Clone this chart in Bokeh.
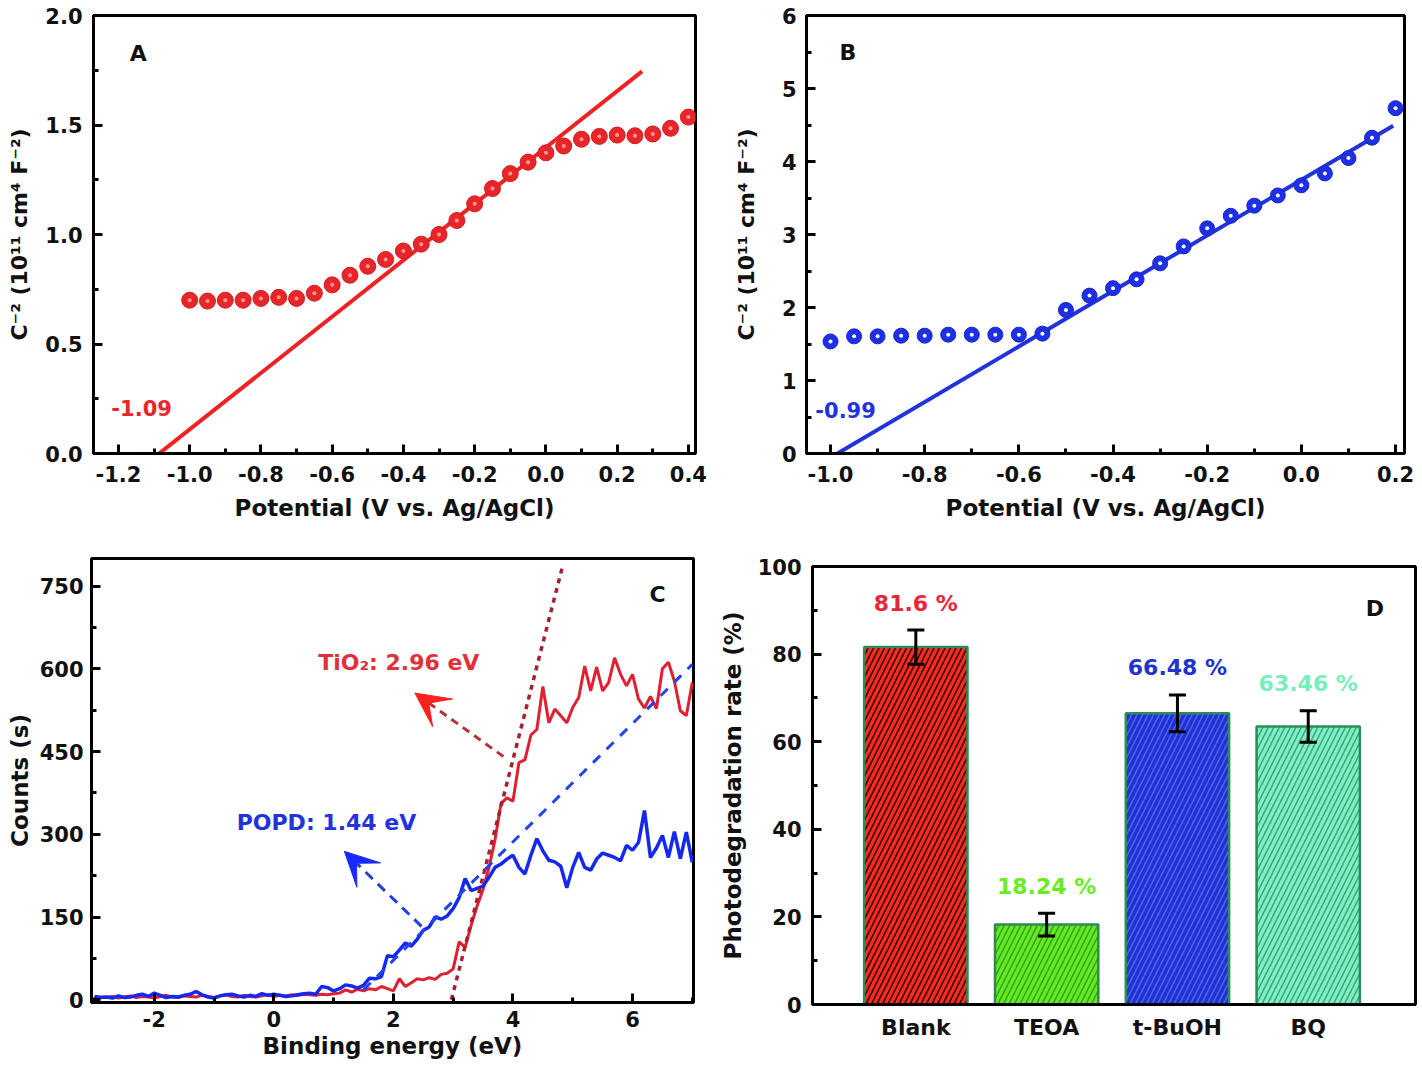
from bokeh.plotting import figure
from bokeh.layouts import column, row
from bokeh.models import (Range1d, SingleIntervalTicker, FixedTicker, PrintfTickFormatter,
                          Label, Arrow, VeeHead, Whisker, TeeHead, ColumnDataSource, Spacer)
from bokeh.core.properties import value
from bokeh.embed import file_html
from bokeh.resources import INLINE

FONT = "DejaVu Sans"

# ---------------- Panel A: Mott-Schottky (red) ----------------
a_potential = [-1.0, -0.95, -0.9, -0.85, -0.8, -0.75, -0.7, -0.65, -0.6, -0.55,
               -0.5, -0.45, -0.4, -0.35, -0.3, -0.25, -0.2, -0.15, -0.1, -0.05,
               0.0, 0.05, 0.1, 0.15, 0.2, 0.25, 0.3, 0.35, 0.4]
a_c2 = [0.70, 0.696, 0.70, 0.70, 0.708, 0.713, 0.708, 0.732, 0.77, 0.814,
        0.855, 0.886, 0.925, 0.956, 1.00, 1.064, 1.14, 1.21, 1.278, 1.33,
        1.373, 1.404, 1.435, 1.448, 1.454, 1.451, 1.459, 1.485, 1.536]
a_fit_x = [-1.14, 0.27]
a_fit_y = [-0.07, 1.745]
a_intercept = "-1.09"

# ---------------- Panel B: Mott-Schottky (blue) ----------------
b_potential = [-1.0, -0.95, -0.9, -0.85, -0.8, -0.75, -0.7, -0.65, -0.6, -0.55,
               -0.5, -0.45, -0.4, -0.35, -0.3, -0.25, -0.2, -0.15, -0.1, -0.05,
               0.0, 0.05, 0.1, 0.15, 0.2]
b_c2 = [1.535, 1.605, 1.605, 1.614, 1.614, 1.628, 1.628, 1.628, 1.628, 1.642,
        1.967, 2.163, 2.265, 2.386, 2.605, 2.837, 3.084, 3.256, 3.395, 3.535,
        3.674, 3.837, 4.047, 4.326, 4.73]
b_fit_x = [-1.038, 0.195]
b_fit_y = [-0.2, 4.49]
b_intercept = "-0.99"

# ---------------- Panel C: VB-XPS ----------------
c_energy = [round(-3.0 + 0.1 * i, 1) for i in range(101)]
c_tio2 = [3, 5, 4, 6, 3, 5, 7, 4, 6, 5,
          3, 6, 8, 5, 4, 7, 6, 5, 8, 6,
          4, 7, 9, 6, 5, 8, 6, 5, 7, 9,
          6, 8, 7, 9, 8, 10, 9, 8, 10, 9,
          11, 12, 18, 14, 19, 16, 20, 18, 24, 20,
          16, 38, 24, 31, 38, 36, 40, 37, 46, 48,
          56, 105, 95, 135, 170, 200, 240, 290, 356, 366,
          360, 430, 435, 480, 490, 568, 502, 527, 515, 502,
          530, 548, 605, 560, 603, 560, 575, 620, 590, 569,
          590, 545, 529, 550, 528, 600, 612, 578, 524, 515,
          575]
c_popd = [6, 4, 5, 3, 7, 4, 5, 8, 10, 6,
          12, 8, 4, 6, 5, 8, 10, 15, 9, 5,
          3, 7, 9, 10, 7, 5, 8, 6, 11, 8,
          10, 8, 6, 7, 9, 11, 12, 10, 24, 22,
          16, 20, 27, 25, 21, 26, 39, 38, 42, 80,
          78, 90, 103, 97, 110, 126, 132, 150, 146, 152,
          165, 185, 220, 198, 202, 206, 222, 240, 246, 255,
          262, 240, 228, 262, 292, 270, 253, 250, 242, 203,
          240, 267, 240, 235, 255, 266, 262, 258, 252, 280,
          271, 285, 343, 258, 275, 298, 258, 305, 256, 304,
          249]
c_tio2_tangent_x = [2.97, 4.83]
c_tio2_tangent_y = [0, 786]
c_popd_tangent_x = [1.5, 7.0]
c_popd_tangent_y = [18, 608]

# ---------------- Panel D: scavenger experiment ----------------
d_categories = ["Blank", "TEOA", "t-BuOH", "BQ"]
d_rates = [81.6, 18.24, 66.48, 63.46]
d_errors = [3.9, 2.6, 4.2, 3.6]
d_labels = ["81.6 %", "18.24 %", "66.48 %", "63.46 %"]
d_fill = ["#ff2a1f", "#62ee1e", "#1f2fe0", "#80f0c2"]
d_hatch = ["#2a0000", "#3c9c28", "#4a6ad0", "#3aa880"]
d_text = ["#e8253a", "#66ee22", "#2233cc", "#77eebb"]


def style(p, tick_size="21px", label_size="23px"):
    p.outline_line_color = "black"
    p.outline_line_width = 3
    p.outline_line_alpha = 1.0
    p.grid.visible = False
    p.background_fill_color = "white"
    p.border_fill_color = "white"
    for ax in (p.xaxis[0], p.yaxis[0]):
        ax.axis_line_width = 3
        ax.axis_line_color = "black"
        ax.major_tick_in = 9
        ax.major_tick_out = 0
        ax.minor_tick_in = 5
        ax.minor_tick_out = 0
        ax.major_tick_line_width = 3
        ax.minor_tick_line_width = 3
        ax.major_label_text_font = FONT
        ax.major_label_text_font_style = "bold"
        ax.major_label_text_font_size = tick_size
        ax.major_label_text_color = "#111111"
        ax.axis_label_text_font = FONT
        ax.axis_label_text_font_style = "bold"
        ax.axis_label_text_font_size = label_size
        ax.axis_label_text_color = "#111111"


def letter(p, x, y, t):
    p.add_layout(Label(x=x, y=y, text=t, text_font=FONT, text_font_style="bold",
                       text_font_size="22px", text_color="#111111",
                       text_align="center", text_baseline="middle"))


# ---------- A ----------
pA = figure(width=710, height=530, x_range=Range1d(-1.27, 0.42), y_range=Range1d(0, 2.0),
            output_backend="svg", toolbar_location=None,
            min_border_left=93, min_border_right=15, min_border_top=15, min_border_bottom=77)
style(pA)
pA.yaxis[0].axis_label_text_font_size = "22px"
pA.xaxis[0].ticker = SingleIntervalTicker(interval=0.2, num_minor_ticks=2)
pA.yaxis[0].ticker = SingleIntervalTicker(interval=0.5, num_minor_ticks=2)
pA.xaxis[0].formatter = PrintfTickFormatter(format="%.1f")
pA.yaxis[0].formatter = PrintfTickFormatter(format="%.1f")
pA.xaxis[0].axis_label = "Potential (V vs. Ag/AgCl)"
pA.yaxis[0].axis_label = "C⁻² (10¹¹ cm⁴ F⁻²)"
pA.xaxis[0].major_label_standoff = 12
pA.xaxis[0].axis_label_standoff = 10
pA.yaxis[0].major_label_standoff = 11
pA.yaxis[0].axis_label_standoff = 10
pA.line(a_fit_x, a_fit_y, line_color="#ee2222", line_width=4)
pA.scatter(a_potential, a_c2, size=16, fill_color="#e8262a", line_color="#d01e1e", line_width=1)
pA.scatter(a_potential, a_c2, size=4, fill_color="#ff9a9a", line_color=None)
pA.add_layout(Label(x=-1.135, y=0.21, text=a_intercept, text_font=FONT, text_font_style="bold",
                    text_font_size="21px", text_color="#e8262a",
                    text_align="center", text_baseline="middle"))
letter(pA, -1.144, 1.826, "A")

# ---------- B ----------
pB = figure(width=711, height=530, x_range=Range1d(-1.051, 0.219), y_range=Range1d(0, 6),
            output_backend="svg", toolbar_location=None,
            min_border_left=96, min_border_right=17, min_border_top=15, min_border_bottom=77)
style(pB)
pB.yaxis[0].axis_label_text_font_size = "22px"
pB.xaxis[0].ticker = SingleIntervalTicker(interval=0.2, num_minor_ticks=2)
pB.yaxis[0].ticker = SingleIntervalTicker(interval=1, num_minor_ticks=2)
pB.xaxis[0].formatter = PrintfTickFormatter(format="%.1f")
pB.yaxis[0].formatter = PrintfTickFormatter(format="%d")
pB.xaxis[0].axis_label = "Potential (V vs. Ag/AgCl)"
pB.yaxis[0].axis_label = "C⁻² (10¹¹ cm⁴ F⁻²)"
pB.xaxis[0].major_label_standoff = 12
pB.xaxis[0].axis_label_standoff = 10
pB.yaxis[0].major_label_standoff = 10
pB.yaxis[0].axis_label_standoff = 20
pB.line(b_fit_x, b_fit_y, line_color="#2233dd", line_width=4)
pB.scatter(b_potential, b_c2, size=15, fill_color="#1e30e6", line_color="#1828c0", line_width=1)
pB.scatter(b_potential, b_c2, size=4, fill_color="white", line_color=None)
pB.add_layout(Label(x=-0.968, y=0.6, text=b_intercept, text_font=FONT, text_font_style="bold",
                    text_font_size="21px", text_color="#2233dd",
                    text_align="center", text_baseline="middle"))
letter(pB, -0.963, 5.5, "B")

# ---------- C ----------
pC = figure(width=710, height=536, x_range=Range1d(-3.05, 7.02), y_range=Range1d(-5, 800),
            output_backend="svg", toolbar_location=None,
            min_border_left=91, min_border_right=17, min_border_top=28, min_border_bottom=64)
style(pC)
pC.xaxis[0].ticker = SingleIntervalTicker(interval=2, num_minor_ticks=2)
pC.yaxis[0].ticker = SingleIntervalTicker(interval=150, num_minor_ticks=2)
pC.xaxis[0].formatter = PrintfTickFormatter(format="%d")
pC.yaxis[0].formatter = PrintfTickFormatter(format="%d")
pC.xaxis[0].axis_label = "Binding energy (eV)"
pC.yaxis[0].axis_label = "Counts (s)"
pC.xaxis[0].major_label_standoff = 8
pC.xaxis[0].axis_label_standoff = 3
pC.yaxis[0].major_label_standoff = 8
pC.yaxis[0].axis_label_standoff = 4
pC.line(c_energy, c_tio2, line_color="#e02030", line_width=3)
pC.line(c_energy, c_popd, line_color="#1428f0", line_width=3.5)
pC.line(c_tio2_tangent_x, c_tio2_tangent_y, line_color="#a82030", line_width=3.5, line_dash="5 5")
pC.line(c_popd_tangent_x, c_popd_tangent_y, line_color="#2244ee", line_width=3, line_dash="10 9")
pC.add_layout(Arrow(x_start=3.84, y_start=441, x_end=2.36, y_end=556,
                    line_color="#b8303a", line_width=3, line_dash="8 6",
                    end=VeeHead(size=34, fill_color="#ff2020", line_color="#ff2020")))
pC.add_layout(Arrow(x_start=2.47, y_start=133, x_end=1.18, y_end=269,
                    line_color="#2040e0", line_width=3, line_dash="10 7",
                    end=VeeHead(size=34, fill_color="#1a2aff", line_color="#1a2aff")))
pC.add_layout(Label(x=2.09, y=612, text="TiO₂: 2.96 eV", text_font=FONT, text_font_style="bold",
                    text_font_size="22px", text_color="#e0303a",
                    text_align="center", text_baseline="middle"))
pC.add_layout(Label(x=0.88, y=321, text="POPD: 1.44 eV", text_font=FONT, text_font_style="bold",
                    text_font_size="22px", text_color="#2233dd",
                    text_align="center", text_baseline="middle"))
letter(pC, 6.42, 735, "C")

# ---------- D ----------
d_x = list(range(1, len(d_categories) + 1))
d_src = ColumnDataSource(dict(
    x=d_x, top=d_rates, fill=d_fill, hatch=d_hatch, tcol=d_text, label=d_labels,
    upper=[r + e for r, e in zip(d_rates, d_errors)],
    lower=[r - e for r, e in zip(d_rates, d_errors)],
))
pD = figure(width=711, height=528, x_range=Range1d(0.21, 4.82), y_range=Range1d(0, 100),
            output_backend="svg", toolbar_location=None,
            min_border_left=102, min_border_right=6, min_border_top=28, min_border_bottom=62)
style(pD)
pD.xaxis[0].ticker = FixedTicker(ticks=d_x, minor_ticks=[])
pD.xaxis[0].major_label_overrides = {i: c for i, c in zip(d_x, d_categories)}
pD.xaxis[0].major_tick_in = 0
pD.xaxis[0].major_label_standoff = 10
pD.xaxis[0].major_label_text_font_size = "22px"
pD.yaxis[0].ticker = SingleIntervalTicker(interval=20, num_minor_ticks=2)
pD.yaxis[0].formatter = PrintfTickFormatter(format="%d")
pD.yaxis[0].axis_label = "Photodegradation rate (%)"
pD.yaxis[0].major_label_standoff = 11
pD.yaxis[0].axis_label_standoff = 9
pD.vbar(x="x", top="top", width=0.79, bottom=0, source=d_src,
        fill_color="fill", line_color="#2e8b57", line_width=2.5,
        hatch_pattern="/", hatch_color="hatch", hatch_scale=11, hatch_weight=1.6)
pD.add_layout(Whisker(source=d_src, base="x", upper="upper", lower="lower",
                      line_color="black", line_width=3, level="overlay",
                      upper_head=TeeHead(size=17, line_width=3, line_color="black"),
                      lower_head=TeeHead(size=17, line_width=3, line_color="black")))
pD.text(x="x", y="upper", text="label", source=d_src, text_color="tcol", y_offset=-27,
        text_font=value(FONT), text_font_style="bold", text_font_size="22px",
        text_align="center", text_baseline="middle")
letter(pD, 4.51, 90.5, "D")

layout = column(row(pA, pB), row(pC, column(Spacer(width=711, height=8), pD)))
open("out.html", "w").write(file_html(layout, INLINE))
